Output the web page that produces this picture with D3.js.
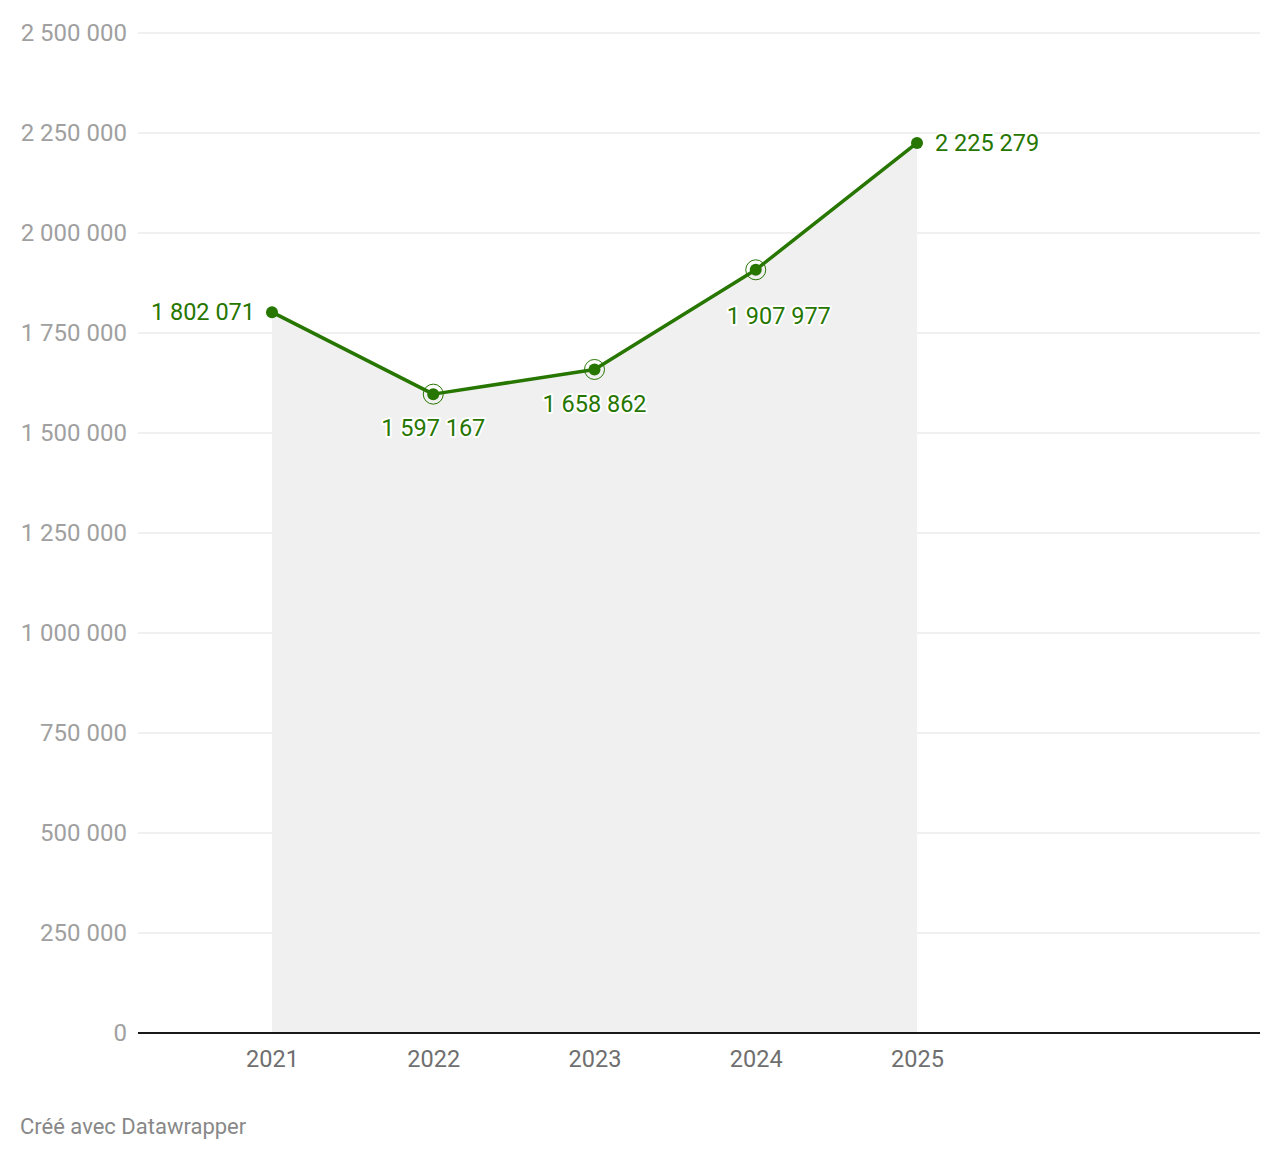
<!DOCTYPE html>
<html lang="fr">
<head>
    <meta charset="UTF-8">
    <title>Line Chart</title>
    <script src="https://d3js.org/d3.v7.min.js"></script>
    <style>
        body { margin: 0; background: #fff; font-family: Roboto, "Noto Sans", sans-serif; }
        .grid line { stroke: #e1e1e1; stroke-width: 1; }
        .axis-y text { font-size: 24px; fill: #a0a0a0; }
        .axis-x text { font-size: 23.5px; fill: #6f6f6f; }
        .label { font-size: 23.5px; fill: #267600; paint-order: stroke; stroke: #fff; stroke-width: 4px; stroke-linejoin: round; }
        .footer { font-size: 22px; fill: #888; }
    </style>
</head>
<body>
    <svg width="1280" height="1160"></svg>

    <script>
        const years = [2021, 2022, 2023, 2024, 2025];
        const values = [1802071, 1597167, 1658862, 1907977, 2225279];
        const labelPos = ["left", "below", "below", "below", "right"];
        const ringed = [false, true, true, true, false];
        const yTicks = [0, 250000, 500000, 750000, 1000000, 1250000, 1500000, 1750000, 2000000, 2250000, 2500000];

        const data = years.map((y, i) => ({ year: y, value: values[i], pos: labelPos[i], ring: ringed[i] }));

        const plotLeft = 138, plotRight = 1260, plotTop = 33, plotBottom = 1033;
        const green = "#267600";

        const svg = d3.select("svg");

        const x = d3.scaleLinear()
            .domain([2021, 2025])
            .range([272, 917]);

        const y = d3.scaleLinear()
            .domain([0, 2500000])
            .range([plotBottom, plotTop]);

        const fmt = v => d3.format(",")(v).replace(/,/g, " ");

        // gridlines
        svg.append("g")
            .attr("class", "grid")
            .selectAll("line")
            .data(yTicks.slice(1))
            .enter().append("line")
            .attr("x1", plotLeft).attr("x2", plotRight)
            .attr("y1", d => y(d)).attr("y2", d => y(d));

        // y axis labels
        const yAxis = d3.axisLeft(y).tickValues(yTicks).tickFormat(fmt).tickSize(0).tickPadding(11);
        svg.append("g")
            .attr("class", "axis-y")
            .attr("transform", `translate(${plotLeft}, 0)`)
            .call(yAxis)
            .call(g => g.select(".domain").remove())
            .selectAll("text")
            .attr("font-family", "Roboto");

        // area
        svg.append("path")
            .datum(data)
            .attr("fill", "#f0f0f0")
            .attr("d", d3.area().x(d => x(d.year)).y0(y(0)).y1(d => y(d.value)));

        // baseline
        svg.append("line")
            .attr("x1", plotLeft).attr("x2", plotRight)
            .attr("y1", y(0)).attr("y2", y(0))
            .attr("stroke", "#1a1a1a").attr("stroke-width", 2);

        // x axis
        const xAxis = d3.axisBottom(x).tickValues(years).tickFormat(d3.format("d")).tickSize(0).tickPadding(17);
        svg.append("g")
            .attr("class", "axis-x")
            .attr("transform", `translate(0, ${y(0)})`)
            .call(xAxis)
            .call(g => g.select(".domain").remove())
            .selectAll("text")
            .attr("font-family", "Roboto");

        // line
        svg.append("path")
            .datum(data)
            .attr("fill", "none")
            .attr("stroke", green)
            .attr("stroke-width", 3.5)
            .attr("stroke-linejoin", "round")
            .attr("d", d3.line().x(d => x(d.year)).y(d => y(d.value)));

        // rings
        svg.selectAll(".ring")
            .data(data.filter(d => d.ring))
            .enter().append("circle")
            .attr("class", "ring")
            .attr("cx", d => x(d.year))
            .attr("cy", d => y(d.value))
            .attr("r", 10)
            .attr("fill", "none")
            .attr("stroke", green)
            .attr("stroke-width", 1);

        // dots
        svg.selectAll(".dot")
            .data(data)
            .enter().append("circle")
            .attr("class", "dot")
            .attr("cx", d => x(d.year))
            .attr("cy", d => y(d.value))
            .attr("r", 6)
            .attr("fill", green);

        // value labels
        svg.selectAll(".label")
            .data(data)
            .enter().append("text")
            .attr("class", "label")
            .attr("x", d => x(d.year) + (d.pos === "left" ? -17 : d.pos === "right" ? 18 : (d.year === 2024 ? 23 : 0)))
            .attr("y", d => y(d.value) + (d.pos === "below" ? (d.year === 2024 ? 46 : 34) : 0))
            .attr("dy", "0.35em")
            .attr("text-anchor", d => d.pos === "left" ? "end" : d.pos === "right" ? "start" : "middle")
            .text(d => fmt(d.value));

        svg.append("text")
            .attr("class", "footer")
            .attr("x", 20)
            .attr("y", 1134)
            .text("Créé avec Datawrapper");
    </script>
</body>
</html>
